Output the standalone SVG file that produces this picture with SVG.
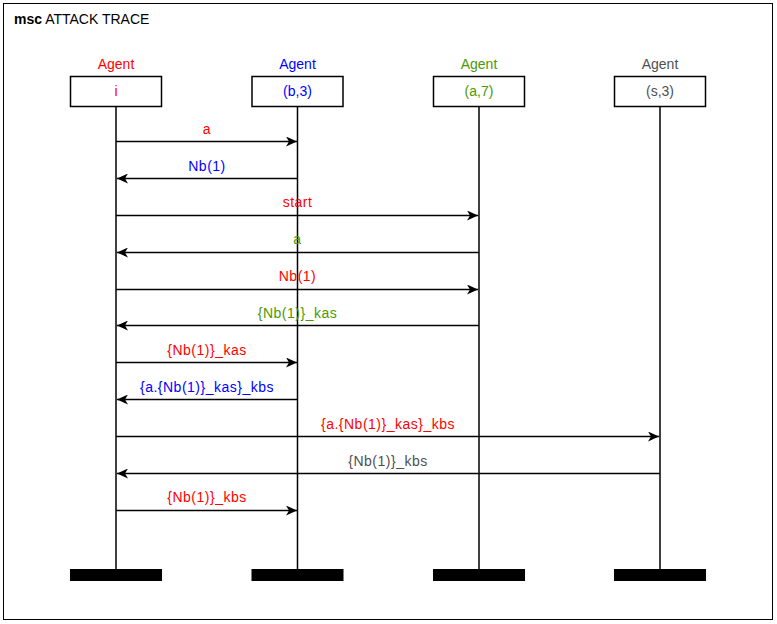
<svg xmlns="http://www.w3.org/2000/svg" width="777" height="624" viewBox="0 0 777 624">
  <defs>
    <marker id="arrow" viewBox="0 0 12 10" refX="11" refY="5" markerWidth="12" markerHeight="10" markerUnits="userSpaceOnUse" orient="auto">
      <path d="M0,0 L11,5 L0,10 L3,5 Z" fill="#000"/>
    </marker>
  </defs>
  <style>
    text { font-family: "Liberation Sans", Arial, sans-serif; font-size: 14px; text-anchor: middle; }
    .title { text-anchor: start; }
    .lbl { letter-spacing: 0.5px; }
    .box { fill: #fff; stroke: #000; stroke-width: 1.5; }
    .life { stroke: #000; stroke-width: 1.5; }
    .end { fill: #000; }
    .msg { stroke: #000; stroke-width: 1.3; fill: none; marker-end: url(#arrow); }
    .red { fill: #ff0000; }
    .blue { fill: #0000ff; }
    .green { fill: #4c9900; }
    .gray { fill: #505050; }
  </style>
  <rect x="0" y="0" width="777" height="624" fill="#fff"/>
  <rect x="3.5" y="3.5" width="769" height="616" fill="none" stroke="#000" stroke-width="1"/>
  <text class="title" x="14" y="24"><tspan font-weight="bold">msc</tspan> ATTACK TRACE</text>

  <g id="agent-i">
    <line class="life" x1="116" y1="107" x2="116" y2="569"/>
    <text class="red" x="116" y="69">Agent</text>
    <rect class="box" x="70.5" y="76.5" width="91" height="30"/>
    <text class="red" x="116" y="96">i</text>
    <rect class="end" x="70" y="569" width="92" height="12"/>
  </g>
  <g id="agent-b3">
    <line class="life" x1="297.5" y1="107" x2="297.5" y2="569"/>
    <text class="blue" x="297.5" y="69">Agent</text>
    <rect class="box" x="252" y="76.5" width="91" height="30"/>
    <text class="blue" x="297.5" y="96">(b,3)</text>
    <rect class="end" x="251.5" y="569" width="92" height="12"/>
  </g>
  <g id="agent-a7">
    <line class="life" x1="479" y1="107" x2="479" y2="569"/>
    <text class="green" x="479" y="69">Agent</text>
    <rect class="box" x="433.5" y="76.5" width="91" height="30"/>
    <text class="green" x="479" y="96">(a,7)</text>
    <rect class="end" x="433" y="569" width="92" height="12"/>
  </g>
  <g id="agent-s3">
    <line class="life" x1="660" y1="107" x2="660" y2="569"/>
    <text class="gray" x="660" y="69">Agent</text>
    <rect class="box" x="614.5" y="76.5" width="91" height="30"/>
    <text class="gray" x="660" y="96">(s,3)</text>
    <rect class="end" x="614" y="569" width="92" height="12"/>
  </g>

  <g id="messages">
    <line class="msg" x1="116" y1="141.5" x2="297" y2="141.5"/>
    <text class="red lbl" x="207" y="134">a</text>

    <line class="msg" x1="297" y1="178.5" x2="117" y2="178.5"/>
    <text class="blue lbl" x="207" y="171">Nb(1)</text>

    <line class="msg" x1="116" y1="215.5" x2="478" y2="215.5"/>
    <text class="red lbl" x="297.5" y="207">start</text>

    <line class="msg" x1="479" y1="252.5" x2="117" y2="252.5"/>
    <text class="green lbl" x="297.5" y="244">a</text>

    <line class="msg" x1="116" y1="289.5" x2="478" y2="289.5"/>
    <text class="red lbl" x="297.5" y="281">Nb(1)</text>

    <line class="msg" x1="479" y1="325.5" x2="117" y2="325.5"/>
    <text class="green lbl" x="297.5" y="318">{Nb(1)}_kas</text>

    <line class="msg" x1="116" y1="362.5" x2="297" y2="362.5"/>
    <text class="red lbl" x="207" y="355">{Nb(1)}_kas</text>

    <line class="msg" x1="297" y1="399.5" x2="117" y2="399.5"/>
    <text class="blue lbl" x="207" y="392">{a.{Nb(1)}_kas}_kbs</text>

    <line class="msg" x1="116" y1="436.5" x2="659" y2="436.5"/>
    <text class="red lbl" x="388" y="429">{a.{Nb(1)}_kas}_kbs</text>

    <line class="msg" x1="660" y1="473.5" x2="117" y2="473.5"/>
    <text class="gray lbl" x="388" y="466">{Nb(1)}_kbs</text>

    <line class="msg" x1="116" y1="510.5" x2="297" y2="510.5"/>
    <text class="red lbl" x="207" y="502">{Nb(1)}_kbs</text>
  </g>
</svg>
